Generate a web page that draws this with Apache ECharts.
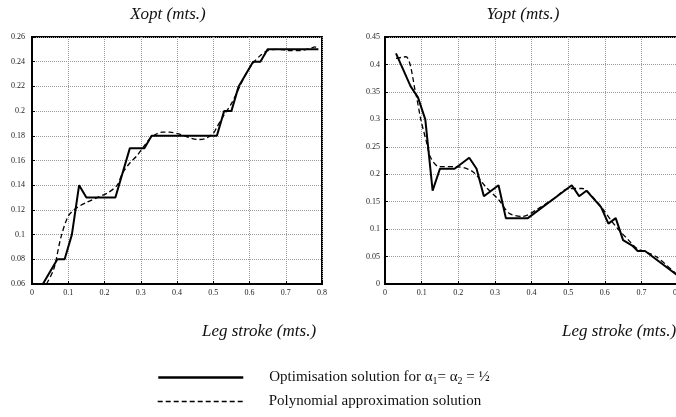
<!DOCTYPE html>
<html>
<head>
<meta charset="utf-8">
<script src="https://cdn.jsdelivr.net/npm/echarts@6/dist/echarts.min.js"></script>
<style>
  html, body { margin: 0; padding: 0; background: #fff; }
  #content { width: 676px; height: 417px; }
</style>
</head>
<body>
<div id="content"></div>
<script>
// Xopt - optimisation solution (solid)
var xoptSolidX = [0.03, 0.07, 0.09, 0.11, 0.13, 0.15, 0.23, 0.27, 0.31, 0.33, 0.51, 0.53, 0.55, 0.57, 0.61, 0.63, 0.65, 0.79];
var xoptSolidY = [0.06, 0.08, 0.08, 0.10, 0.14, 0.13, 0.13, 0.17, 0.17, 0.18, 0.18, 0.20, 0.20, 0.22, 0.24, 0.24, 0.25, 0.25];
// Xopt - polynomial approximation (dashed)
var xoptPolyX = [0.04, 0.06, 0.08, 0.10, 0.12, 0.15, 0.18, 0.21, 0.235, 0.25, 0.27, 0.29, 0.31, 0.33, 0.36, 0.38, 0.41, 0.44, 0.46, 0.48, 0.50, 0.51, 0.53, 0.55, 0.57, 0.59, 0.61, 0.63, 0.65, 0.68, 0.71, 0.74, 0.77, 0.78, 0.79];
var xoptPolyY = [0.06, 0.072, 0.098, 0.115, 0.121, 0.126, 0.130, 0.134, 0.140, 0.150, 0.158, 0.164, 0.172, 0.179, 0.183, 0.183, 0.181, 0.178, 0.177, 0.178, 0.182, 0.187, 0.197, 0.206, 0.218, 0.230, 0.239, 0.245, 0.249, 0.250, 0.249, 0.249, 0.251, 0.252, 0.250];

// Yopt - optimisation solution (solid)
var yoptSolidX = [0.03, 0.07, 0.09, 0.11, 0.13, 0.15, 0.19, 0.23, 0.25, 0.27, 0.31, 0.33, 0.39, 0.43, 0.47, 0.51, 0.53, 0.55, 0.59, 0.61, 0.63, 0.65, 0.675, 0.69, 0.71, 0.80];
var yoptSolidY = [0.42, 0.36, 0.34, 0.30, 0.17, 0.21, 0.21, 0.23, 0.21, 0.16, 0.18, 0.12, 0.12, 0.14, 0.16, 0.18, 0.16, 0.17, 0.14, 0.11, 0.12, 0.08, 0.07, 0.06, 0.06, 0.015];
// Yopt - polynomial approximation (dashed)
var yoptPolyX = [0.03, 0.057, 0.084, 0.098, 0.112, 0.125, 0.147, 0.193, 0.239, 0.275, 0.311, 0.339, 0.375, 0.42, 0.46, 0.502, 0.539, 0.565, 0.593, 0.63, 0.665, 0.69, 0.74, 0.80];
var yoptPolyY = [0.411, 0.414, 0.347, 0.299, 0.262, 0.230, 0.214, 0.214, 0.205, 0.177, 0.153, 0.129, 0.123, 0.138, 0.155, 0.174, 0.174, 0.160, 0.138, 0.105, 0.080, 0.064, 0.050, 0.015];

var xTicks = [0, 0.8, 0.1];       // min, max, interval
var xoptTicks = [0.06, 0.26, 0.02];
var yoptTicks = [0, 0.45, 0.05];

var solidName = "Optimisation solution";
var polyName = "Polynomial approximation solution";

function pairs(xs, ys) {
    var out = [];
    for (var i = 0; i < xs.length; i++) {
        out.push([xs[i], ys[i]]);
    }
    return out;
}

var serif = "'Liberation Serif', 'DejaVu Serif', serif";

function makeX(idx) {
    return {
        type: "value",
        gridIndex: idx,
        min: xTicks[0], max: xTicks[1], interval: xTicks[2],
        axisLine: { show: true, onZero: false, lineStyle: { color: "#000", width: 2 } },
        axisTick: { show: true, inside: true, length: 3, lineStyle: { color: "#000" } },
        axisLabel: { fontFamily: serif, fontSize: 8, color: "#222", margin: 5 },
        splitLine: { show: true, lineStyle: { color: "#9a9a9a", type: "dotted", width: 1 } },
    };
}

function makeY(idx, t, margin) {
    return {
        type: "value",
        gridIndex: idx,
        min: t[0], max: t[1], interval: t[2],
        axisLine: { show: true, onZero: false, lineStyle: { color: "#000", width: 2 } },
        axisTick: { show: true, inside: true, length: 3, lineStyle: { color: "#000" } },
        axisLabel: { fontFamily: serif, fontSize: 8, color: "#222", margin: margin },
        splitLine: { show: true, lineStyle: { color: "#9a9a9a", type: "dotted", width: 1 } },
    };
}

// legend text rich styles (subscripts for the alphas)
var legendText = {
    fontFamily: serif,
    fontSize: 15,
    color: "#111",
    padding: [0, 0, 0, 21],
    rich: {
        t: { fontFamily: serif, fontSize: 15, color: "#111" },
        s: { fontFamily: serif, fontSize: 10, color: "#111", padding: [8, 0, 0, 0] },
    },
};

function makeLegend(name, top, lineWidth) {
    return {
        orient: "vertical",
        left: 157,
        top: top,
        padding: 0,
        itemWidth: 85,
        itemHeight: 14,
        data: [name],
        itemStyle: { opacity: 0, borderWidth: 0 },
        lineStyle: { width: lineWidth },
        textStyle: legendText,
        formatter: function(n) {
            if (n == solidName) {
                return "{t|Optimisation solution for α}{s|1}{t|= α}{s|2}{t| = ½}";
            }
            return "{t|" + n + "}";
        },
    };
}

var myChart = echarts.init(document.getElementById("content"), null, { renderer: "canvas" });

myChart.setOption({
    animation: false,
    backgroundColor: "#fff",
    grid: [
        { left: 32, top: 37, width: 290, height: 247, show: true, borderColor: "#000", borderWidth: 2, outerBoundsMode: "none" },
        { left: 385, top: 37, width: 293, height: 247, show: true, borderColor: "#000", borderWidth: 2, outerBoundsMode: "none" },
    ],
    xAxis: [makeX(0), makeX(1)],
    yAxis: [makeY(0, xoptTicks, 7), makeY(1, yoptTicks, 5)],
    legend: [
        makeLegend(solidName, 370, 2.5),
        makeLegend(polyName, 394, 1.4),
    ],
    graphic: [
        { type: "text", x: 168, y: 15, style: { text: "Xopt (mts.)", font: "italic 17px " + serif, fill: "#111", align: "center", verticalAlign: "middle" } },
        { type: "text", x: 523, y: 15, style: { text: "Yopt (mts.)", font: "italic 17px " + serif, fill: "#111", align: "center", verticalAlign: "middle" } },
        { type: "text", x: 259, y: 332, style: { text: "Leg stroke (mts.)", font: "italic 17px " + serif, fill: "#111", align: "center", verticalAlign: "middle" } },
        { type: "text", x: 619, y: 332, style: { text: "Leg stroke (mts.)", font: "italic 17px " + serif, fill: "#111", align: "center", verticalAlign: "middle" } },
    ],
    series: [
        {
            name: solidName, type: "line", xAxisIndex: 0, yAxisIndex: 0,
            data: pairs(xoptSolidX, xoptSolidY), showSymbol: false, symbol: "none",
            lineStyle: { color: "#000", width: 2 }, itemStyle: { color: "#000" },
        },
        {
            name: polyName, type: "line", xAxisIndex: 0, yAxisIndex: 0,
            data: pairs(xoptPolyX, xoptPolyY), showSymbol: false, symbol: "none", smooth: 0.3,
            lineStyle: { color: "#000", width: 1.3, type: [5, 3] }, itemStyle: { color: "#000" },
        },
        {
            name: solidName, type: "line", xAxisIndex: 1, yAxisIndex: 1,
            data: pairs(yoptSolidX, yoptSolidY), showSymbol: false, symbol: "none",
            lineStyle: { color: "#000", width: 2 }, itemStyle: { color: "#000" },
        },
        {
            name: polyName, type: "line", xAxisIndex: 1, yAxisIndex: 1,
            data: pairs(yoptPolyX, yoptPolyY), showSymbol: false, symbol: "none", smooth: 0.3,
            lineStyle: { color: "#000", width: 1.3, type: [5, 3] }, itemStyle: { color: "#000" },
        },
    ],
});
</script>
</body>
</html>
